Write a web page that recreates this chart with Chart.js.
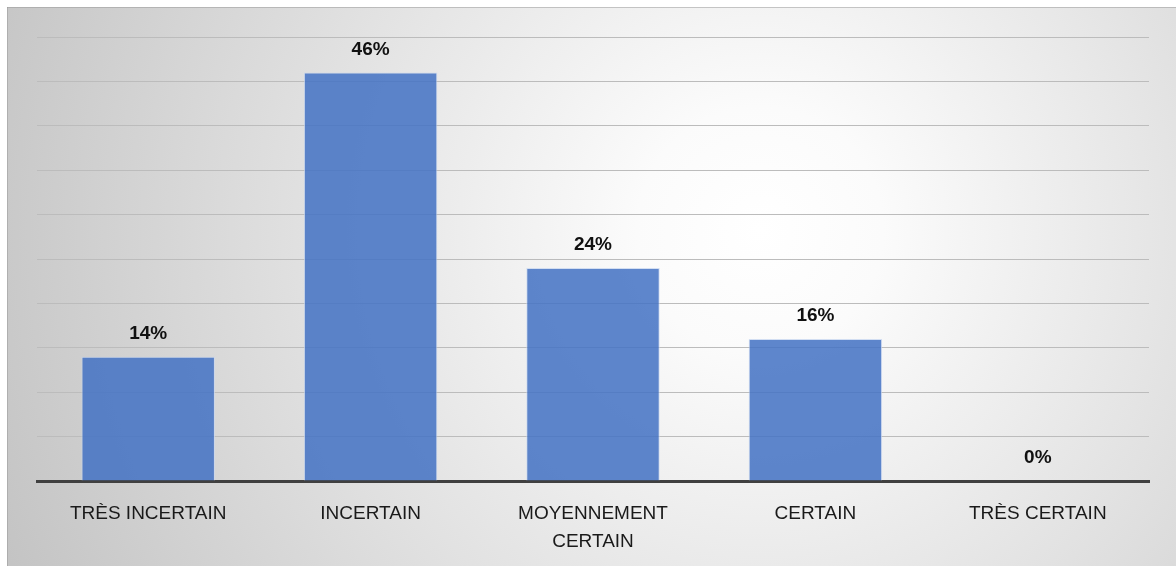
<!DOCTYPE html>
<html>
<head>
<meta charset="utf-8">
<script src="https://cdn.jsdelivr.net/npm/chart.js@4.4.1/dist/chart.umd.min.js"></script>
<style>
  html,body{margin:0;padding:0;background:#fff;}
  #wrap{position:relative;width:1176px;height:566px;}
</style>
</head>
<body>
<div id="wrap"><canvas id="chart"></canvas></div>
<script>
const categories = ['TRÈS INCERTAIN', 'INCERTAIN', ['MOYENNEMENT', 'CERTAIN'], 'CERTAIN', 'TRÈS CERTAIN'];
const values     = [14, 46, 24, 16, 0];
const valueLabels = ['14%', '46%', '24%', '16%', '0%'];

const FONT = '"Liberation Sans", "DejaVu Sans", sans-serif';

// fondo con degradado radial (estilo Excel)
const bgPlugin = {
  id: 'bg',
  beforeDraw(chart){
    const c = chart.ctx;
    const W = chart.width, H = chart.height;
    c.save();
    c.fillStyle = '#fff';
    c.fillRect(0,0,W,H);
    const g = c.createRadialGradient(760, 230, 0, 760, 230, 820);
    g.addColorStop(0, '#ffffff');
    g.addColorStop(0.15, '#fbfbfb');
    g.addColorStop(1, '#c4c4c4');
    c.fillStyle = g;
    c.fillRect(7,7,W-7,H-7);
    c.fillStyle = 'rgba(150,150,150,0.5)';
    c.fillRect(7,7,W-7,1);
    c.fillRect(7,7,1,H-7);
    c.restore();
  }
};

// etiquetas de valor arriba de cada barra
const valuePlugin = {
  id: 'values',
  afterDatasetsDraw(chart){
    const c = chart.ctx;
    const meta = chart.getDatasetMeta(0);
    c.save();
    c.font = `bold 19px ${FONT}`;
    c.fillStyle = '#111';
    c.textAlign = 'center';
    c.textBaseline = 'middle';
    meta.data.forEach((bar,i)=>{
      c.fillText(valueLabels[i], bar.x, bar.y - 23);
    });
    c.restore();
  }
};

new Chart(document.getElementById('chart'), {
  type: 'bar',
  data: {
    labels: categories,
    datasets: [{
      data: values,
      backgroundColor: 'rgba(68,114,196,0.86)',
      borderColor: 'rgba(200,215,240,0.8)',
      borderWidth: 1,
      barPercentage: 0.6,
      categoryPercentage: 1
    }]
  },
  options: {
    responsive: true,
    maintainAspectRatio: false,
    animation: false,
    layout: { padding: { left: 37, right: 27, top: 37, bottom: 0 } },
    plugins: { legend: { display: false }, tooltip: { enabled: false } },
    scales: {
      x: {
        grid: { display: false },
        border: { display: true, color: '#404040', width: 3 },
        ticks: { color: '#1a1a1a', font: { family: FONT, size: 19, lineHeight: 1.45 }, padding: 11, maxRotation: 0, autoSkip: false },
        afterFit: (s)=>{ s.height = 85; }
      },
      y: {
        min: 0, max: 50,
        ticks: { display: false, stepSize: 5 },
        grid: { color: '#bcbcbc', lineWidth: 1, drawTicks: false },
        border: { display: false },
        afterFit: (s)=>{ s.width = 0; }
      }
    }
  },
  plugins: [bgPlugin, valuePlugin]
});
</script>
</body>
</html>
